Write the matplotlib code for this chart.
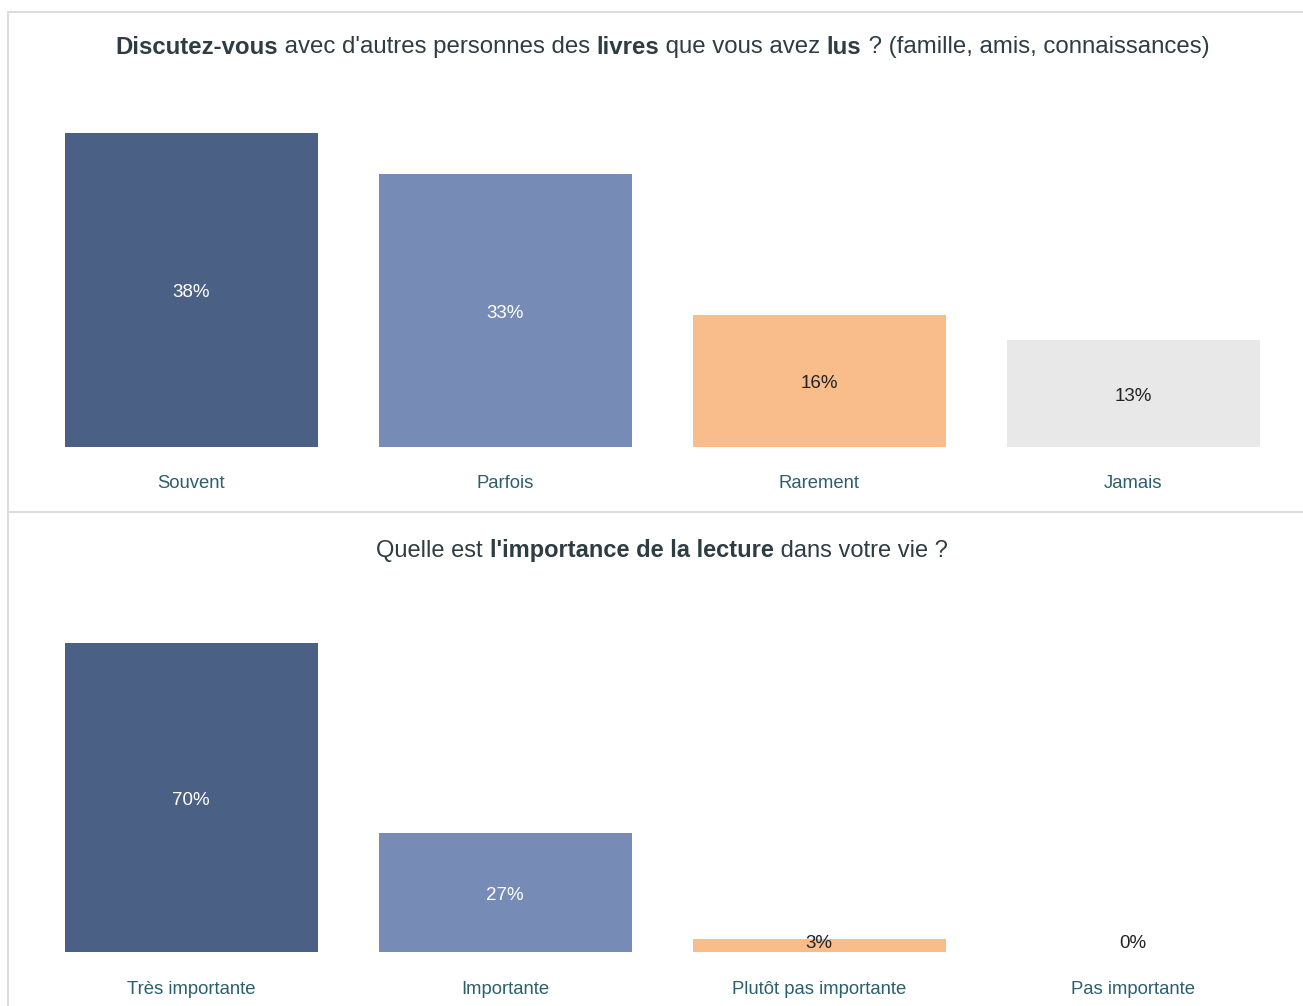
import matplotlib
matplotlib.use("Agg")
import matplotlib.pyplot as plt
from matplotlib.lines import Line2D

plt.rcParams['font.family'] = ['Liberation Sans', 'DejaVu Sans']

# ---- data ----
cats_top = ["Souvent", "Parfois", "Rarement", "Jamais"]
vals_top = [38, 33, 16, 13]
cats_bot = ["Très importante", "Importante", "Plutôt pas importante", "Pas importante"]
vals_bot = [70, 27, 3, 0]
title_top = [("Discutez-vous", True), (" avec d'autres personnes des ", False), ("livres", True),
             (" que vous avez ", False), ("lus", True), (" ? (famille, amis, connaissances)", False)]
title_bot = [("Quelle est ", False), ("l'importance de la lecture", True), (" dans votre vie ?", False)]

colors = ["#4a6084", "#768cb6", "#f9bd8c", "#e8e8e8"]
value_colors = ["white", "white", "#222222", "#222222"]
title_color = "#2e3c43"
cat_color = "#2b5f6e"

W, H = 1303, 1006
fig = plt.figure(figsize=(W / 100, H / 100), dpi=100)

def fx(px):
    return px / W

def fy(py):
    return 1 - py / H

# borders
border = "#dddddd"
fig.add_artist(Line2D([fx(8), fx(8)], [fy(12), fy(1006)], color=border, lw=1.5, transform=fig.transFigure))
fig.add_artist(Line2D([fx(8), 1], [fy(12), fy(12)], color=border, lw=1.5, transform=fig.transFigure))
fig.add_artist(Line2D([fx(8), 1], [fy(512), fy(512)], color=border, lw=1.5, transform=fig.transFigure))

def panel(cats, vals, base_px, top_px, px_per_unit, cat_y_px, title_parts, title_y_px, min_label, tsize):
    left_px, right_px = 662 - 2 * 314, 662 + 2 * 314
    ax = fig.add_axes([fx(left_px), fy(base_px), (right_px - left_px) / W, (base_px - top_px) / H])
    ymax = (base_px - top_px) / px_per_unit
    x = list(range(len(cats)))
    ax.bar(x, vals, width=253 / 314, color=colors, edgecolor="none")
    ax.set_xlim(-0.5, len(cats) - 0.5)
    ax.set_ylim(0, ymax)
    ax.axis("off")
    for i, v in enumerate(vals):
        ax.annotate(f"{v}%", (i, max(v / 2, min_label)), xytext=(0, -3), textcoords="offset pixels",
                    ha="center", va="center", fontsize=13.5, color=value_colors[i])
        fig.text(fx(191 + 314 * i), fy(cat_y_px), cats[i], ha="center", va="center",
                 fontsize=13.3, color=cat_color)
    # title with mixed weights
    renderer = fig.canvas.get_renderer()
    widths = []
    texts = []
    for s, b in title_parts:
        t = fig.text(0, fy(title_y_px), s, fontsize=tsize, color=title_color,
                     fontweight="bold" if b else "normal", va="center", ha="left")
        texts.append(t)
        bb = t.get_window_extent(renderer)
        widths.append(bb.width)
    total = sum(widths)
    x0 = 662 - total / 2
    for t, w in zip(texts, widths):
        t.set_x(fx(x0))
        x0 += w

panel(cats_top, vals_top, 447, 100, 314 / 38, 483, title_top, 47, 0, 17.3)
panel(cats_bot, vals_bot, 952, 600, 309 / 70, 989, title_bot, 551, 2.5, 17.0)

fig.savefig("out.png", dpi=100, facecolor="white")
